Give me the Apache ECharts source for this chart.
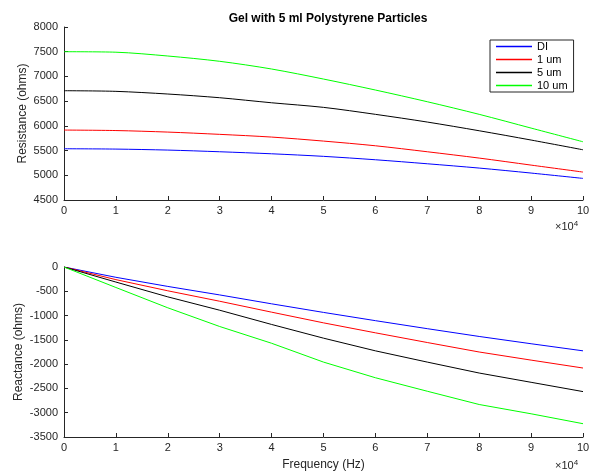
<!DOCTYPE html>
<html>
<head>
<meta charset="utf-8">
<script src="https://cdn.jsdelivr.net/npm/echarts@6/dist/echarts.min.js"></script>
<style>
  html, body { margin: 0; padding: 0; background: #fff; }
  #chart { width: 591px; height: 471px; }
</style>
</head>
<body>
<div id="chart"></div>
<script>
// frequency in units of 10^4 Hz
var freq = [0, 1, 2, 3, 4, 5, 6, 7, 8, 9, 10];
var seriesNames = ['DI', '1 um', '5 um', '10 um'];
var seriesColors = ['#0000ff', '#ff0000', '#000000', '#00ff00'];

var resistance = [
  [5537, 5530, 5510, 5476, 5435, 5383, 5314, 5233, 5146, 5045, 4937],
  [5915, 5905, 5874, 5828, 5773, 5692, 5597, 5476, 5348, 5206, 5065],
  [6711, 6698, 6644, 6569, 6467, 6374, 6233, 6077, 5901, 5713, 5516],
  [7500, 7490, 7413, 7306, 7150, 6947, 6725, 6488, 6233, 5955, 5678]
];
var reactance = [
  [0, -212, -400, -575, -758, -935, -1105, -1270, -1430, -1580, -1726],
  [0, -260, -490, -705, -930, -1150, -1355, -1555, -1750, -1917, -2080],
  [0, -310, -615, -890, -1183, -1465, -1726, -1958, -2183, -2374, -2565],
  [0, -422, -840, -1225, -1570, -1958, -2280, -2558, -2831, -3022, -3226]
];

var fontFam = 'Liberation Sans, Arial, Helvetica, sans-serif';
var axisColor = '#262626';

function pairs(vals) {
  return freq.map(function (f, i) { return [f, vals[i]]; });
}

function xAxisFor(idx) {
  return {
    type: 'value', gridIndex: idx, min: 0, max: 10, interval: 1,
    axisLine: { show: true, onZero: false, lineStyle: { color: axisColor, width: 1 } },
    axisTick: { show: true, inside: true, length: 4, lineStyle: { color: axisColor } },
    axisLabel: { color: axisColor, fontSize: 11, fontFamily: fontFam, margin: 5 },
    splitLine: { show: false }
  };
}

function yAxisFor(idx, min, max, name, gap) {
  return {
    type: 'value', gridIndex: idx, min: min, max: max, interval: 500,
    name: name, nameLocation: 'middle', nameGap: gap, nameMoveOverlap: false,
    nameTextStyle: { color: axisColor, fontSize: 12, fontFamily: fontFam },
    axisLine: { show: true, onZero: false, lineStyle: { color: axisColor, width: 1 } },
    axisTick: { show: true, inside: true, length: 4, lineStyle: { color: axisColor } },
    axisLabel: {
      color: axisColor, fontSize: 11, fontFamily: fontFam, margin: 6,
      formatter: function (v) { return String(v); }
    },
    splitLine: { show: false }
  };
}

var series = [];
seriesNames.forEach(function (name, i) {
  series.push({
    name: name, type: 'line', xAxisIndex: 0, yAxisIndex: 0,
    symbol: 'none', smooth: 0.3, data: pairs(resistance[i]),
    lineStyle: { color: seriesColors[i], width: 1 },
    itemStyle: { color: seriesColors[i] }, animation: false
  });
  series.push({
    name: name, type: 'line', xAxisIndex: 1, yAxisIndex: 1,
    symbol: 'none', data: pairs(reactance[i]),
    lineStyle: { color: seriesColors[i], width: 1 },
    itemStyle: { color: seriesColors[i] }, animation: false
  });
});

var chart = echarts.init(document.getElementById('chart'));
chart.setOption({
  backgroundColor: '#fff',
  animation: false,
  title: {
    text: 'Gel with 5 ml Polystyrene Particles',
    left: 323, top: 8, textAlign: 'center',
    textStyle: { fontSize: 12, fontWeight: 'bold', color: '#000', fontFamily: fontFam }
  },
  legend: {
    data: seriesNames,
    orient: 'vertical', left: 490, top: 40,
    icon: 'rect', itemWidth: 36, itemHeight: 1.5, itemGap: 0,
    padding: [0, 6, 0, 6],
    borderColor: axisColor, borderWidth: 1, backgroundColor: '#fff',
    textStyle: { color: '#000', fontSize: 11, fontFamily: fontFam, lineHeight: 13, padding: [0, 0, 0, 0] }
  },
  grid: [
    { left: 64, right: 8, top: 27, height: 173, outerBoundsMode: 'none' },
    { left: 64, right: 8, top: 267, height: 170, outerBoundsMode: 'none' }
  ],
  xAxis: [xAxisFor(0), Object.assign(xAxisFor(1), {
    name: 'Frequency (Hz)', nameLocation: 'middle', nameGap: 22, nameMoveOverlap: false,
    nameTextStyle: { color: axisColor, fontSize: 12, fontFamily: fontFam }
  })],
  yAxis: [
    yAxisFor(0, 4500, 8000, 'Resistance (ohms)', 35),
    yAxisFor(1, -3500, 0, 'Reactance (ohms)', 39)
  ],
  graphic: [
    { type: 'text', left: 555, top: 220, style: { text: '×10{s|4}', fill: axisColor, font: '11px ' + fontFam,
      rich: { s: { fontSize: 8, verticalAlign: 'top', padding: [0, 0, 6, 0] } } } },
    { type: 'text', left: 555, top: 459, style: { text: '×10{s|4}', fill: axisColor, font: '11px ' + fontFam,
      rich: { s: { fontSize: 8, verticalAlign: 'top', padding: [0, 0, 6, 0] } } } }
  ],
  series: series
});
</script>
</body>
</html>
